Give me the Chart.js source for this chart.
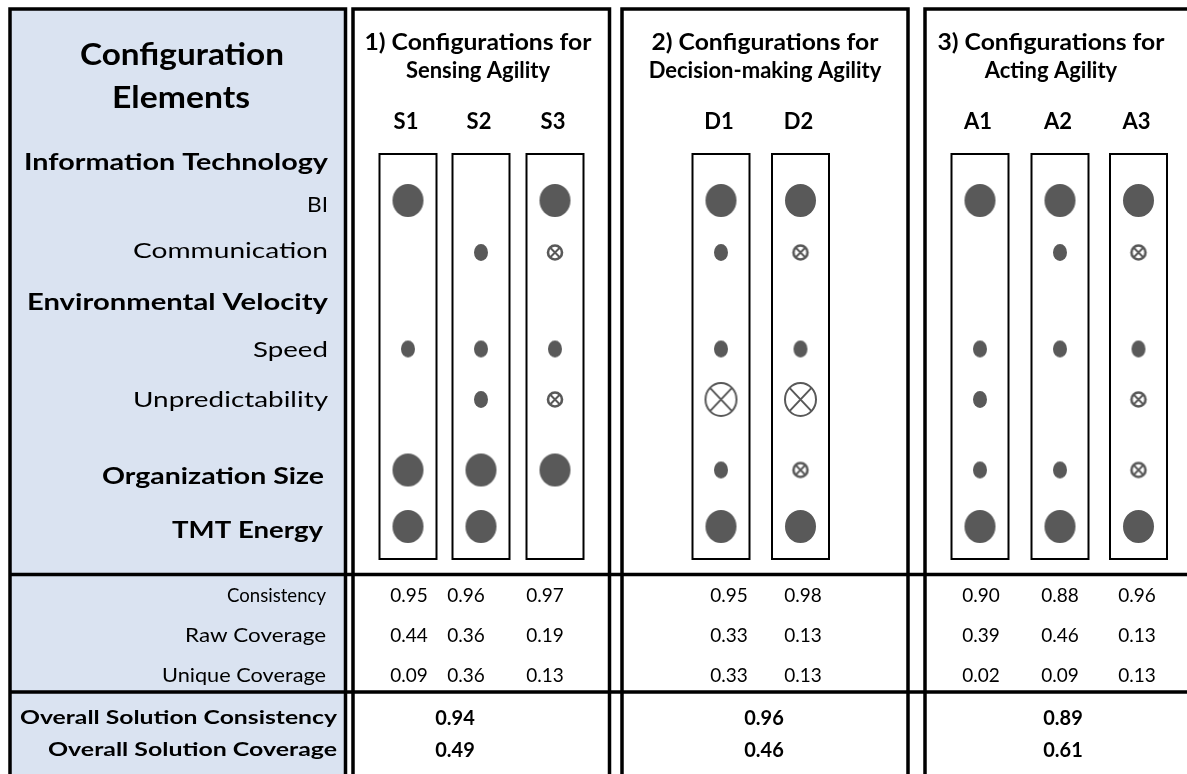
<!DOCTYPE html>
<html><head><meta charset="utf-8">
<script src="https://cdn.jsdelivr.net/npm/chart.js@4.4.0/dist/chart.umd.min.js"></script>
<style>html,body{margin:0;padding:0;background:#fff;overflow:hidden}canvas{display:block}</style>
</head><body>
<canvas id="c" width="1187" height="774" style="width:1187px;height:774px"></canvas>
<script>
// ---------------- DATA ----------------
const configurations = ['S1','S2','S3','D1','D2','A1','A2','A3'];
const groupTitles = [['1) Configurations for','Sensing Agility'],['2) Configurations for','Decision-making Agility'],['3) Configurations for','Acting Agility']];
const conditions = ['BI','Communication','Speed','Unpredictability','Organization Size','TMT Energy'];
// 2 = core present (large dot), 1 = peripheral present (small dot),
// -1 = peripheral absent (small crossed), -2 = core absent (large crossed), 0 = blank
const S1 = [2, 0, 1, 0, 2, 2];
const S2 = [0, 1, 1, 1, 2, 2];
const S3 = [2,-1, 1,-1, 2, 0];
const D1 = [2, 1, 1,-2, 1, 2];
const D2 = [2,-1, 1,-2,-1, 2];
const A1 = [2, 0, 1, 1, 1, 2];
const A2 = [2, 1, 1, 0, 1, 2];
const A3 = [2,-1, 1,-1,-1, 2];
const consistency    = [0.95,0.96,0.97,0.95,0.98,0.90,0.88,0.96];
const rawCoverage    = [0.44,0.36,0.19,0.33,0.13,0.39,0.46,0.13];
const uniqueCoverage = [0.09,0.36,0.13,0.33,0.13,0.02,0.09,0.13];
const overallConsistency = [0.94,0.96,0.89];
const overallCoverage    = [0.49,0.46,0.61];

// ---------------- LAYOUT (positions in scale units) ----------------
const configCodes = [S1,S2,S3,D1,D2,A1,A2,A3];
const colX = [408,481,555,721,800.5,980,1060,1138.5];
const rowY = [200.5,252.5,349,399.5,470,526.5];
const numX = [409,466,545,729,803,981,1060,1137];
const groupX = [478,765,1051];
const overallX = [455,764,1063];
const FONT = 'Lato, "Open Sans", sans-serif';
const DOT = '#595959';

function marker(kind){
  const big = Math.abs(kind) === 2;
  const c = document.createElement('canvas');
  const rx = big ? 15.5 : 7, ry = big ? 16.5 : 8.5;
  c.width = Math.ceil(2*rx + 6); c.height = Math.ceil(2*ry + 6);
  const g = c.getContext('2d');
  const cx = c.width/2, cy = c.height/2;
  if (kind > 0){
    g.fillStyle = DOT; g.beginPath(); g.ellipse(cx,cy,rx,ry,0,0,Math.PI*2); g.fill();
  } else {
    const r1 = big ? 15.5 : 7, r2 = big ? 16.5 : 7;
    g.strokeStyle = DOT; g.lineWidth = big ? 2 : 2.6;
    g.beginPath(); g.ellipse(cx,cy,r1,r2,0,0,Math.PI*2); g.stroke();
    const dx = r1*Math.SQRT1_2, dy = r2*Math.SQRT1_2;
    g.lineWidth = 2;
    g.beginPath(); g.moveTo(cx-dx,cy-dy); g.lineTo(cx+dx,cy+dy);
    g.moveTo(cx+dx,cy-dy); g.lineTo(cx-dx,cy+dy); g.stroke();
  }
  return c;
}

function pointsFor(code){
  const pts = [];
  configCodes.forEach((codes,j)=>codes.forEach((v,i)=>{ if(v===code) pts.push({x:colX[j], y:rowY[i]}); }));
  return pts;
}
const kinds = [2,1,-1,-2];
const datasets = kinds.map(k=>({
  label: String(k), data: pointsFor(k), pointStyle: marker(k),
  pointRadius: 10, pointHoverRadius: 10, showLine:false, clip:false
}));

function txt(ctx, s, x, y, size, bold, align, targetW){
  ctx.font = (bold ? 'bold ' : '') + size + 'px ' + FONT;
  ctx.textBaseline = 'alphabetic';
  ctx.textAlign = align;
  const w = ctx.measureText(s).width;
  const sx = targetW ? targetW / w : 1;
  ctx.save(); ctx.translate(x, y); ctx.scale(sx, 1);
  ctx.fillStyle = '#000'; ctx.fillText(s, 0, 0); ctx.restore();
}

const tablePlugin = {
  id: 'table',
  beforeDatasetsDraw(chart){
    const ctx = chart.ctx, xs = chart.scales.x, ys = chart.scales.y;
    const X = v => xs.getPixelForValue(v), Y = v => ys.getPixelForValue(v);
    ctx.save();
    ctx.fillStyle = '#fff'; ctx.fillRect(0,0,chart.width,chart.height);
    // left blue panel
    ctx.fillStyle = '#dae3f1';
    ctx.fillRect(X(10), Y(9), X(345.5)-X(10), Y(780)-Y(9));
    ctx.strokeStyle = '#000'; ctx.lineWidth = 3.5;
    ctx.lineJoin = 'miter';
    ctx.beginPath();
    ctx.moveTo(X(10),Y(790)); ctx.lineTo(X(10),Y(9)); ctx.lineTo(X(345.5),Y(9)); ctx.lineTo(X(345.5),Y(790));
    // group boxes
    [[353,609.5],[622,908],[925,1200]].forEach(([a,b])=>{
      ctx.moveTo(X(a),Y(790)); ctx.lineTo(X(a),Y(9)); ctx.lineTo(X(b),Y(9)); ctx.lineTo(X(b),Y(790));
    });
    // horizontal separators
    [574.5, 692].forEach(yy=>{ ctx.moveTo(X(10),Y(yy)); ctx.lineTo(X(1200),Y(yy)); });
    ctx.stroke();
    // configuration columns
    ctx.lineWidth = 2;
    colX.forEach(cx=>{
      ctx.strokeRect(X(cx-28.5), Y(154), X(cx+28.5)-X(cx-28.5), Y(559)-Y(154));
    });
    ctx.restore();
  },
  afterDatasetsDraw(chart){
    const ctx = chart.ctx, xs = chart.scales.x, ys = chart.scales.y;
    const X = v => xs.getPixelForValue(v), Y = v => ys.getPixelForValue(v);
    ctx.save();
    // title
    txt(ctx,'Configuration', X(182), Y(65), 30, true, 'center', 204);
    txt(ctx,'Elements', X(181), Y(108), 30, true, 'center', 138);
    // left labels
    txt(ctx,'Information Technology', X(328), Y(170), 22, true, 'right', 304);
    txt(ctx,conditions[0], X(328), Y(212), 22, false, 'right', 21);
    txt(ctx,conditions[1], X(328), Y(258), 22, false, 'right', 195);
    txt(ctx,'Environmental Velocity', X(328), Y(310), 22, true, 'right', 301);
    txt(ctx,conditions[2], X(328), Y(357), 22, false, 'right', 75);
    txt(ctx,conditions[3], X(328), Y(407), 22, false, 'right', 195);
    txt(ctx,conditions[4], X(324), Y(484), 22, true, 'right', 222);
    txt(ctx,conditions[5], X(323), Y(538), 22, true, 'right', 151);
    // bottom labels
    txt(ctx,'Consistency', X(326), Y(602), 20, false, 'right', 99);
    txt(ctx,'Raw Coverage', X(326), Y(642), 20, false, 'right', 141);
    txt(ctx,'Unique Coverage', X(326), Y(682), 20, false, 'right', 164);
    txt(ctx,'Overall Solution Consistency', X(337), Y(724), 19, true, 'right', 317);
    txt(ctx,'Overall Solution Coverage', X(337), Y(756), 19, true, 'right', 289);
    // group headers
    groupTitles.forEach((t,g)=>{
      txt(ctx,t[0], X(groupX[g]), Y(50), 22, true, 'center', 227);
      txt(ctx,t[1], X(groupX[g]), Y(78), 22, true, 'center', null);
    });
    // configuration labels
    configurations.forEach((c,j)=> txt(ctx,c, X(colX[j]-2), Y(129), 22, true, 'center', null));
    // numbers
    configurations.forEach((c,j)=>{
      txt(ctx,consistency[j].toFixed(2), X(numX[j]), Y(602), 19, false, 'center', null);
      txt(ctx,rawCoverage[j].toFixed(2), X(numX[j]), Y(642), 19, false, 'center', null);
      txt(ctx,uniqueCoverage[j].toFixed(2), X(numX[j]), Y(682), 19, false, 'center', null);
    });
    overallX.forEach((ox,g)=>{
      txt(ctx,overallConsistency[g].toFixed(2), X(ox), Y(725), 20, true, 'center', null);
      txt(ctx,overallCoverage[g].toFixed(2), X(ox), Y(757), 20, true, 'center', null);
    });
    ctx.restore();
  }
};

new Chart(document.getElementById('c'), {
  type: 'scatter',
  data: { datasets },
  options: {
    responsive: false, animation: false, devicePixelRatio: 1,
    layout: { padding: 0, autoPadding: false },
    plugins: { legend: { display: false }, tooltip: { enabled: false } },
    events: [],
    scales: {
      x: { type: 'linear', min: 0, max: 1187, display: false },
      y: { type: 'linear', min: 0, max: 774, reverse: true, display: false }
    }
  },
  plugins: [tablePlugin]
});
</script>
</body></html>
